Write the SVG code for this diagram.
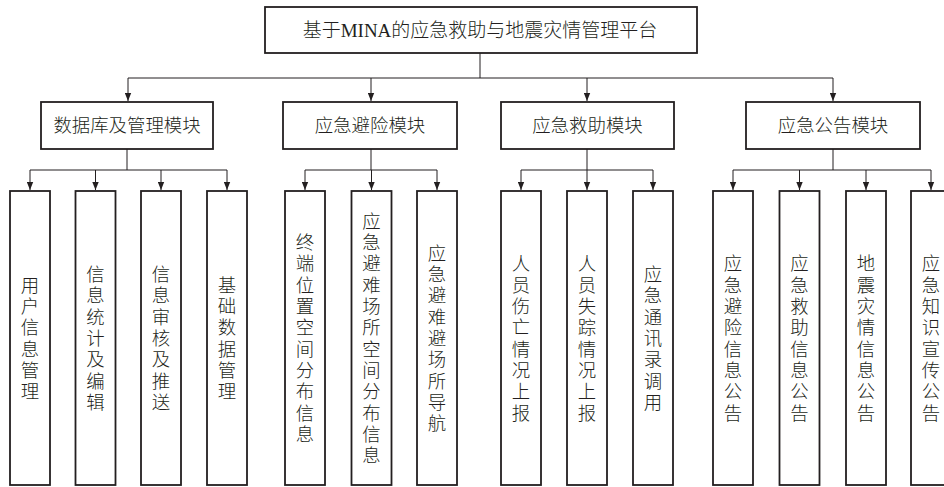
<svg xmlns="http://www.w3.org/2000/svg" width="944" height="487" viewBox="0 0 944 487">
<style>
  .box{fill:#fff;stroke:#231f20;stroke-width:1.8}
  .ln{fill:none;stroke:#231f20;stroke-width:1}
  .t{font-family:"Liberation Serif","Noto Sans CJK SC",serif;font-weight:300;fill:#231f20;text-anchor:middle;dominant-baseline:central}
  .t1{font-size:19px}
  .t2{font-size:18.4px}
  .t3{font-size:18.4px}
</style>
<defs>
  <marker id="ah" markerUnits="userSpaceOnUse" markerWidth="8" markerHeight="7" refX="8" refY="3.5" orient="auto">
    <path d="M0,0.3 L8,3.5 L0,6.7 z" fill="#231f20"/>
  </marker>
</defs>
<rect width="944" height="487" fill="#fff"/>
<g id="connectors">
  <path class="ln" d="M480,53 V78 M128,78 H833"/>
  <path class="ln" marker-end="url(#ah)" d="M128,78 V101"/>
  <path class="ln" marker-end="url(#ah)" d="M371,78 V101"/>
  <path class="ln" marker-end="url(#ah)" d="M587,78 V101"/>
  <path class="ln" marker-end="url(#ah)" d="M833,78 V101"/>
  <path class="ln" d="M127,149 V170 M30,170 H227"/>
  <path class="ln" marker-end="url(#ah)" d="M30,170 V190"/>
  <path class="ln" marker-end="url(#ah)" d="M95.5,170 V190"/>
  <path class="ln" marker-end="url(#ah)" d="M161,170 V190"/>
  <path class="ln" marker-end="url(#ah)" d="M227,170 V190"/>
  <path class="ln" d="M371,149 V170 M305,170 H437"/>
  <path class="ln" marker-end="url(#ah)" d="M305,170 V190"/>
  <path class="ln" marker-end="url(#ah)" d="M371.5,170 V190"/>
  <path class="ln" marker-end="url(#ah)" d="M437,170 V190"/>
  <path class="ln" d="M587,149 V170 M521,170 H653"/>
  <path class="ln" marker-end="url(#ah)" d="M521,170 V190"/>
  <path class="ln" marker-end="url(#ah)" d="M587,170 V190"/>
  <path class="ln" marker-end="url(#ah)" d="M653,170 V190"/>
  <path class="ln" d="M833,149 V170 M733,170 H931"/>
  <path class="ln" marker-end="url(#ah)" d="M733,170 V190"/>
  <path class="ln" marker-end="url(#ah)" d="M799.5,170 V190"/>
  <path class="ln" marker-end="url(#ah)" d="M866,170 V190"/>
  <path class="ln" marker-end="url(#ah)" d="M931,170 V190"/>
</g>
<g id="root">
  <rect class="box" x="265" y="7" width="432" height="46"/>
  <text class="t t1" x="480" y="30">基于MINA的应急救助与地震灾情管理平台</text>
</g>
<g id="m1">
  <rect class="box" x="41" y="102" width="172" height="47"/>
  <text class="t t2" x="127" y="125.5">数据库及管理模块</text>
</g>
<g id="m2">
  <rect class="box" x="283" y="102" width="174" height="47"/>
  <text class="t t2" x="370" y="125.5">应急避险模块</text>
</g>
<g id="m3">
  <rect class="box" x="501" y="102" width="173" height="47"/>
  <text class="t t2" x="587.5" y="125.5">应急救助模块</text>
</g>
<g id="m4">
  <rect class="box" x="746" y="102" width="174" height="47"/>
  <text class="t t2" x="833" y="125.5">应急公告模块</text>
</g>
<g id="l1">
  <rect class="box" x="10" y="191" width="40" height="294"/>
  <text class="t t3" x="30 30 30 30 30 30" y="285.75 307.05 328.35 349.65 370.95 392.25">用户信息管理</text>
</g>
<g id="l2">
  <rect class="box" x="75.5" y="191" width="40" height="294"/>
  <text class="t t3" x="95.5 95.5 95.5 95.5 95.5 95.5 95.5" y="275.1 296.4 317.7 339 360.3 381.6 402.9">信息统计及编辑</text>
</g>
<g id="l3">
  <rect class="box" x="141" y="191" width="40" height="294"/>
  <text class="t t3" x="161 161 161 161 161 161 161" y="275.1 296.4 317.7 339 360.3 381.6 402.9">信息审核及推送</text>
</g>
<g id="l4">
  <rect class="box" x="207" y="191" width="40" height="294"/>
  <text class="t t3" x="227 227 227 227 227 227" y="285.75 307.05 328.35 349.65 370.95 392.25">基础数据管理</text>
</g>
<g id="l5">
  <rect class="box" x="285" y="191" width="40" height="294"/>
  <text class="t t3" x="305 305 305 305 305 305 305 305 305 305" y="243.15 264.45 285.75 307.05 328.35 349.65 370.95 392.25 413.55 434.85">终端位置空间分布信息</text>
</g>
<g id="l6">
  <rect class="box" x="351.5" y="191" width="40" height="294"/>
  <text class="t t3" x="371.5 371.5 371.5 371.5 371.5 371.5 371.5 371.5 371.5 371.5 371.5 371.5" y="221.85 243.15 264.45 285.75 307.05 328.35 349.65 370.95 392.25 413.55 434.85 456.15">应急避难场所空间分布信息</text>
</g>
<g id="l7">
  <rect class="box" x="417" y="191" width="40" height="294"/>
  <text class="t t3" x="437 437 437 437 437 437 437 437 437" y="253.8 275.1 296.4 317.7 339 360.3 381.6 402.9 424.2">应急避难避场所导航</text>
</g>
<g id="l8">
  <rect class="box" x="501" y="191" width="40" height="294"/>
  <text class="t t3" x="521 521 521 521 521 521 521 521" y="264.45 285.75 307.05 328.35 349.65 370.95 392.25 413.55">人员伤亡情况上报</text>
</g>
<g id="l9">
  <rect class="box" x="567" y="191" width="40" height="294"/>
  <text class="t t3" x="587 587 587 587 587 587 587 587" y="264.45 285.75 307.05 328.35 349.65 370.95 392.25 413.55">人员失踪情况上报</text>
</g>
<g id="l10">
  <rect class="box" x="633" y="191" width="40" height="294"/>
  <text class="t t3" x="653 653 653 653 653 653 653" y="275.1 296.4 317.7 339 360.3 381.6 402.9">应急通讯录调用</text>
</g>
<g id="l11">
  <rect class="box" x="713" y="191" width="40" height="294"/>
  <text class="t t3" x="733 733 733 733 733 733 733 733" y="264.45 285.75 307.05 328.35 349.65 370.95 392.25 413.55">应急避险信息公告</text>
</g>
<g id="l12">
  <rect class="box" x="779.5" y="191" width="40" height="294"/>
  <text class="t t3" x="799.5 799.5 799.5 799.5 799.5 799.5 799.5 799.5" y="264.45 285.75 307.05 328.35 349.65 370.95 392.25 413.55">应急救助信息公告</text>
</g>
<g id="l13">
  <rect class="box" x="846" y="191" width="40" height="294"/>
  <text class="t t3" x="866 866 866 866 866 866 866 866" y="264.45 285.75 307.05 328.35 349.65 370.95 392.25 413.55">地震灾情信息公告</text>
</g>
<g id="l14">
  <rect class="box" x="911" y="191" width="40" height="294"/>
  <text class="t t3" x="931 931 931 931 931 931 931 931" y="264.45 285.75 307.05 328.35 349.65 370.95 392.25 413.55">应急知识宣传公告</text>
</g>
</svg>
